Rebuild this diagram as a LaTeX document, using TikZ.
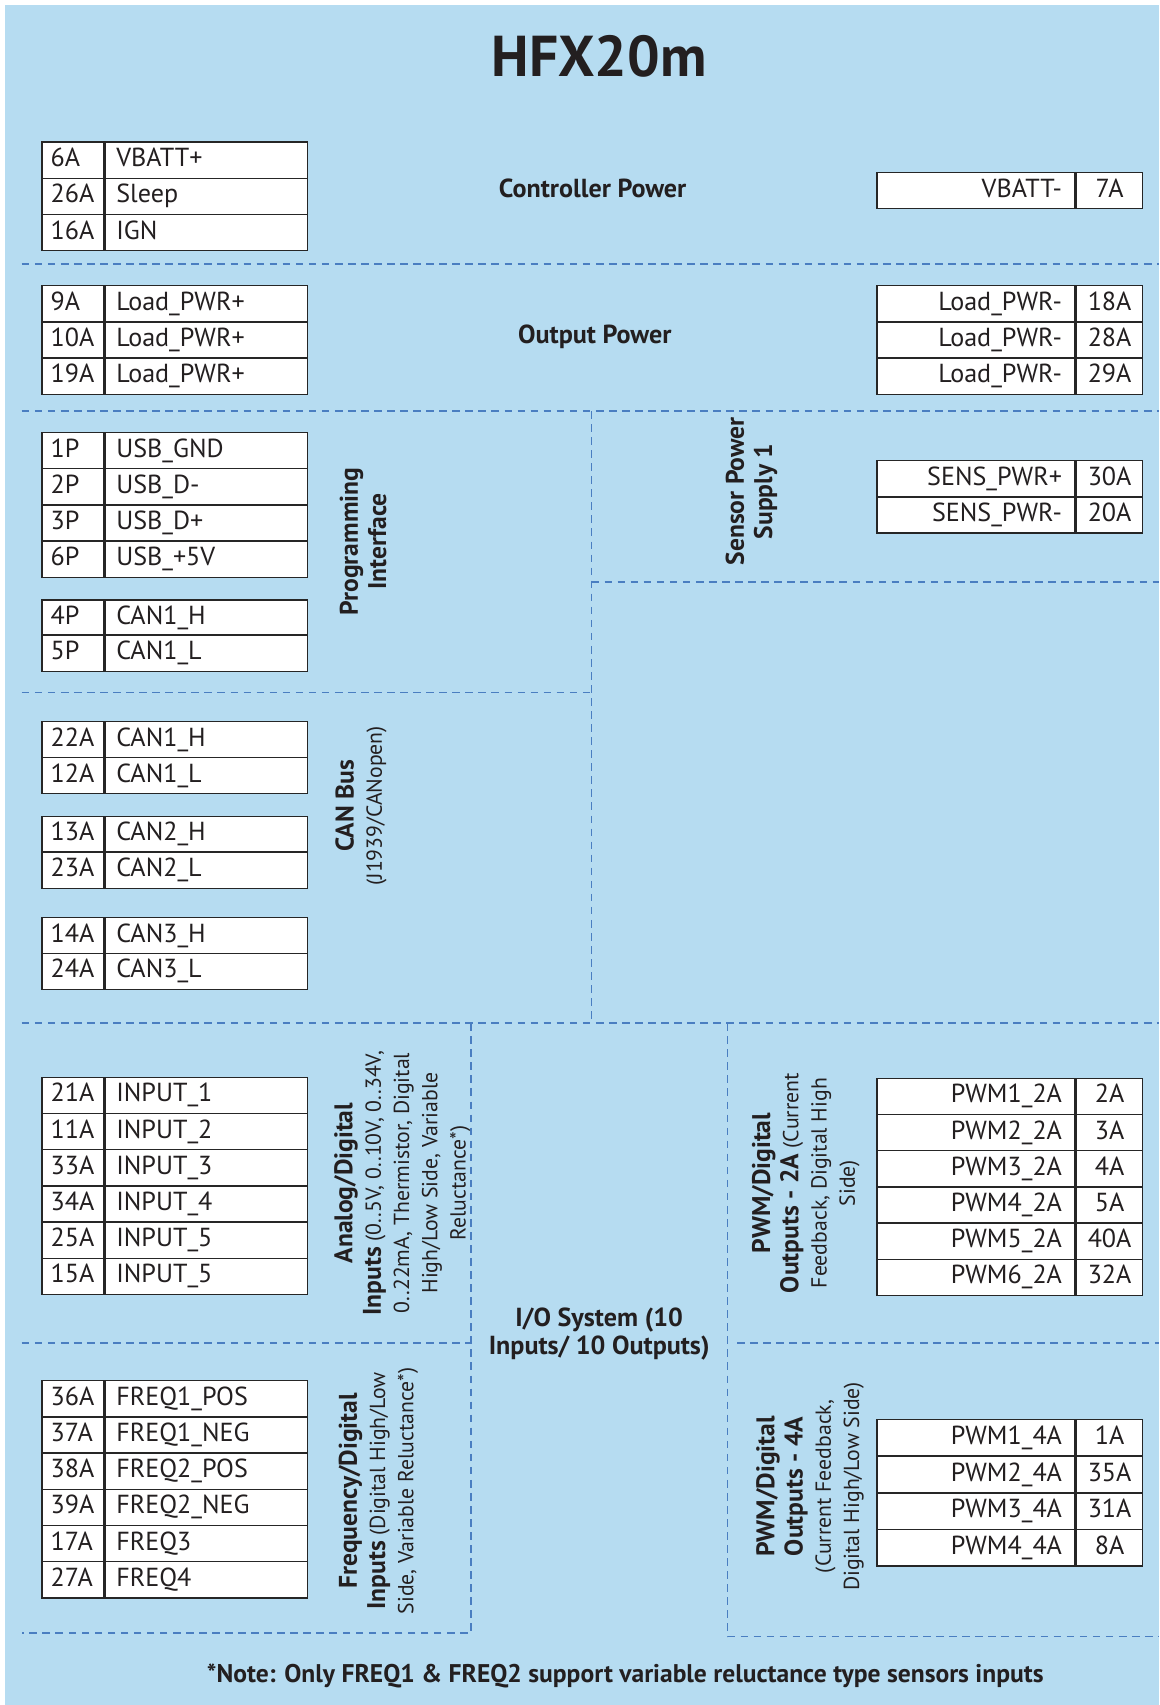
\documentclass[tikz,border=0pt]{standalone}
\usepackage{fontspec}
\setmainfont{PT Sans}
\usetikzlibrary{positioning}
\definecolor{panelblue}{RGB}{182,220,241}
\definecolor{zoneline}{RGB}{74,126,193}
\definecolor{ink}{RGB}{35,31,32}
\newcommand{\bigpart}[1]{{\bfseries\fontsize{23.5}{26}\selectfont #1}}

\begin{document}
\begin{tikzpicture}[x=1pt,y=-1pt,
	every node/.style={text=ink},
	zone/.style={draw=zoneline, line width=1.4pt, dash pattern=on 7pt off 5pt},
	cell/.style={draw=black!85, line width=1.3pt, fill=white, minimum height=33.3pt,
		text height=17pt, text depth=5pt, font=\fontsize{24}{26}\selectfont},
	lnum/.style={cell, anchor=north west, inner xsep=8pt, text width=41pt, align=left},
	lname/.style={cell, inner xsep=10pt, text width=166pt, align=left},
	rname/.style={cell, anchor=north west, inner xsep=12pt, text width=158pt, align=right},
	rnum/.style={cell, inner xsep=2pt, text width=57pt, align=center},
	head/.style={font=\bfseries\fontsize{24}{26}\selectfont, inner sep=0pt},
	rot/.style={font=\fontsize{20}{26}\selectfont, align=center, rotate=90, inner sep=0pt}]
	\useasboundingbox (0,0) rectangle (1066,1568);
	\fill[panelblue] (5,5) rectangle (1066,1568);
	\node[font=\bfseries\fontsize{53}{60}\selectfont] (title) at (551,52) {HFX20m};

	% zone borders
	\draw[zone] (20,243) -- (1066,243);
	\draw[zone] (20,378) -- (1066,378);
	\draw[zone] (544,378) -- (544,941);
	\draw[zone] (20,637) -- (544,637);
	\draw[zone] (544,535) -- (1066,535);
	\draw[zone] (20,941) -- (1066,941);
	\draw[zone] (20,1235) -- (433,1235);
	\draw[zone] (433,941) -- (433,1502) -- (20,1502);
	\draw[zone] (669,941) -- (669,1505) -- (1066,1505);
	\draw[zone] (678,1235) -- (1066,1235);

	% controller power
	\foreach \n/\s [count=\i] in {6A/VBATT+,26A/Sleep,16A/IGN}{
		\node[lnum] (cp-n\i) at (38,{130+33.3*(\i-1)}) {\n};
		\node[lname, right=0pt of cp-n\i] (cp-s\i) {\s};
	}
	\node[rname] (cpr-s1) at (806,158) {VBATT-};
	\node[rnum, right=0pt of cpr-s1] (cpr-n1) {7A};
	\node[head] (ctrl) at (545,173) {Controller Power};

	% output power
	\foreach \n/\s [count=\i] in {9A/Load\_PWR+,10A/Load\_PWR+,19A/Load\_PWR+}{
		\node[lnum] (op-n\i) at (38,{262+33.3*(\i-1)}) {\n};
		\node[lname, right=0pt of op-n\i] (op-s\i) {\s};
	}
	\foreach \s/\n [count=\i] in {Load\_PWR-/18A,Load\_PWR-/28A,Load\_PWR-/29A}{
		\node[rname] (opr-s\i) at (806,{262+33.3*(\i-1)}) {\s};
		\node[rnum, right=0pt of opr-s\i] (opr-n\i) {\n};
	}
	\node[head] (outp) at (547,310) {Output Power};

	% programming interface
	\foreach \n/\s [count=\i] in {1P/USB\_GND,2P/USB\_D-,3P/USB\_D+,6P/USB\_+5V}{
		\node[lnum] (usb-n\i) at (38,{397+33.3*(\i-1)}) {\n};
		\node[lname, right=0pt of usb-n\i] (usb-s\i) {\s};
	}
	\foreach \n/\s [count=\i] in {4P/CAN1\_H,5P/CAN1\_L}{
		\node[lnum] (pc-n\i) at (38,{551+32.5*(\i-1)}) {\n};
		\node[lname, right=0pt of pc-n\i] (pc-s\i) {\s};
	}
	\node[rot, font=\bfseries\fontsize{23.5}{26}\selectfont] (prog) at (334,498) {Programming\\Interface};

	% sensor power
	\node[rot, font=\bfseries\fontsize{23.5}{26}\selectfont] (sens) at (691,452) {Sensor Power\\Supply 1};
	\foreach \s/\n [count=\i] in {SENS\_PWR+/30A,SENS\_PWR-/20A}{
		\node[rname] (sp-s\i) at (806,{423+33.3*(\i-1)}) {\s};
		\node[rnum, right=0pt of sp-s\i] (sp-n\i) {\n};
	}

	% can bus
	\foreach \n/\s [count=\i] in {22A/CAN1\_H,12A/CAN1\_L}{
		\node[lnum] (ca-n\i) at (38,{663+33*(\i-1)}) {\n};
		\node[lname, right=0pt of ca-n\i] (ca-s\i) {\s};
	}
	\foreach \n/\s [count=\i] in {13A/CAN2\_H,23A/CAN2\_L}{
		\node[lnum] (cb-n\i) at (38,{750+33*(\i-1)}) {\n};
		\node[lname, right=0pt of cb-n\i] (cb-s\i) {\s};
	}
	\foreach \n/\s [count=\i] in {14A/CAN3\_H,24A/CAN3\_L}{
		\node[lnum] (cc-n\i) at (38,{843+33*(\i-1)}) {\n};
		\node[lname, right=0pt of cc-n\i] (cc-s\i) {\s};
	}
	\node[rot] (canb) at (332,741) {\bigpart{CAN Bus}\\(J1939/CANopen)};

	% analog inputs
	\foreach \n/\s [count=\i] in {21A/INPUT\_1,11A/INPUT\_2,33A/INPUT\_3,34A/INPUT\_4,25A/INPUT\_5,15A/INPUT\_5}{
		\node[lnum] (ai-n\i) at (38,{990+33.3*(\i-1)}) {\n};
		\node[lname, right=0pt of ai-n\i] (ai-s\i) {\s};
	}
	\node[rot] (anin) at (370,1088) {\bigpart{Analog/Digital}\\\bigpart{Inputs} (0..5V, 0..10V, 0..34V,\\0..22mA, Thermistor, Digital\\High/Low Side, Variable\\Reluctance*)};

	% frequency inputs
	\foreach \n/\s [count=\i] in {36A/FREQ1\_POS,37A/FREQ1\_NEG,38A/FREQ2\_POS,39A/FREQ2\_NEG,17A/FREQ3,27A/FREQ4}{
		\node[lnum] (fi-n\i) at (38,{1269+33.3*(\i-1)}) {\n};
		\node[lname, right=0pt of fi-n\i] (fi-s\i) {\s};
	}
	\node[rot] (frql) at (348,1371) {\bigpart{Frequency/Digital}\\\bigpart{Inputs} (Digital High/Low\\Side, Variable Reluctance*)};

	% i/o system
	\node[head, align=center] (iosys) at (551,1227) {I/O System (10\\Inputs/ 10 Outputs)};

	% pwm 2A outputs
	\node[rot] (pw2l) at (741,1088) {\bigpart{PWM/Digital}\\\bigpart{Outputs - 2A} (Current\\Feedback, Digital High\\Side)};
	\foreach \s/\n [count=\i] in {PWM1\_2A/2A,PWM2\_2A/3A,PWM3\_2A/4A,PWM4\_2A/5A,PWM5\_2A/40A,PWM6\_2A/32A}{
		\node[rname] (pa-s\i) at (806,{991+33.3*(\i-1)}) {\s};
		\node[rnum, right=0pt of pa-s\i] (pa-n\i) {\n};
	}

	% pwm 4A outputs
	\node[rot] (pw4l) at (745,1367) {\bigpart{PWM/Digital}\\\bigpart{Outputs - 4A}\\(Current Feedback,\\Digital High/Low Side)};
	\foreach \s/\n [count=\i] in {PWM1\_4A/1A,PWM2\_4A/35A,PWM3\_4A/31A,PWM4\_4A/8A}{
		\node[rname] (pb-s\i) at (806,{1305+33.7*(\i-1)}) {\s};
		\node[rnum, right=0pt of pb-s\i] (pb-n\i) {\n};
	}

	\node[head, font=\bfseries\fontsize{23.5}{26}\selectfont] (note) at (575,1541) {*Note: Only FREQ1 \& FREQ2 support variable reluctance type sensors inputs};
\end{tikzpicture}
\end{document}
